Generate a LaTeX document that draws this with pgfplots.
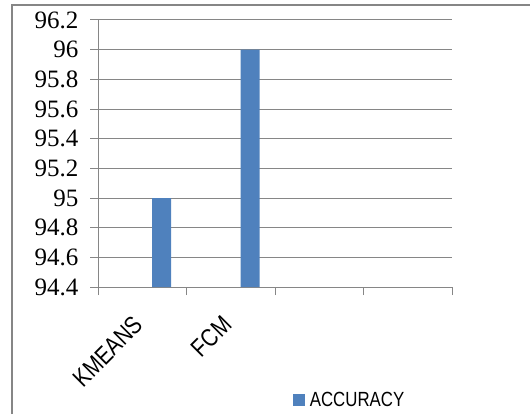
\documentclass[border=0pt]{standalone}
\usepackage{pgfplots}
\pgfplotsset{compat=1.18}
\usepackage{fontspec}
\setmainfont{Liberation Serif}
\newfontfamily\narrowsans{Liberation Sans}[FakeStretch=0.82]
\definecolor{barblue}{HTML}{4F81BD}
\definecolor{gridgray}{HTML}{868686}
\begin{document}
\begin{tikzpicture}[x=1bp,y=1bp]
\useasboundingbox (0,0) rectangle (530,414);
\draw[gridgray, line width=1.2bp] (12,0) -- (12,409) -- (530,409);
\begin{axis}[
  at={(98bp,127bp)}, anchor=south west,
  scale only axis, width=354bp, height=267bp,
  xmin=0, xmax=4, ymin=94.4, ymax=96.2,
  axis x line=bottom, axis y line=left,
  axis line style={gridgray, line width=1bp, -},
  xtick={0,1,2,3,4},
  xticklabels={KMEANS,FCM,,},
  x tick label as interval,
  ytick={94.4,94.6,94.8,95,95.2,95.4,95.6,95.8,96,96.2},
  /pgf/number format/assume math mode=true,
  yticklabel style={font=\fontsize{25bp}{28bp}\selectfont, xshift=-8bp},
  xticklabel style={font=\narrowsans\fontsize{25bp}{28bp}\selectfont, xshift=-10bp, yshift=-14.5bp, rotate=45, anchor=north east},
  tick align=outside,
  major tick length=8bp,
  tick style={gridgray, line width=1bp},
  ymajorgrids,
  grid style={gridgray, line width=1bp},
  legend style={at={(0.55,-0.423)}, anchor=west, draw=none, fill=none, inner sep=0pt,
    font=\narrowsans\fontsize{20.5bp}{23bp}\selectfont},
  legend image code/.code={\fill[barblue] (0bp,-6bp) rectangle (12bp,6bp);},
  clip=true,
]
\addplot[ybar, bar width=19bp, bar shift=19.3bp, fill=barblue, draw=none]
  coordinates {(0.5,95) (1.5,96)};
\addlegendentry{\hspace{3bp}ACCURACY}
\end{axis}
\end{tikzpicture}
\end{document}
